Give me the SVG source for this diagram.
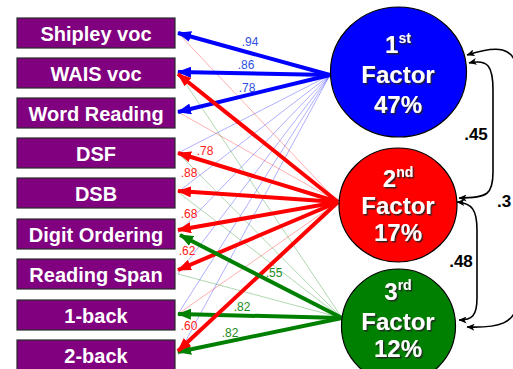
<svg xmlns="http://www.w3.org/2000/svg" width="513" height="369" viewBox="0 0 513 369">
<defs>
<style>
.box{fill:#800080;stroke:#2a2a2a;stroke-width:1.2}
.bt{font-family:"Liberation Sans",Arial,sans-serif;font-weight:bold;font-size:20px;fill:#fff;text-anchor:middle}
.ft{font-family:"Liberation Sans",Arial,sans-serif;font-weight:bold;font-size:24px;fill:#fff;text-anchor:middle;filter:url(#sh)}
.sup{font-size:14px}
.lb{font-family:"Liberation Sans",Arial,sans-serif;font-size:12px;text-anchor:middle}
.cl{font-family:"Liberation Sans",Arial,sans-serif;font-weight:bold;font-size:17px;fill:#000;text-anchor:middle}
.thin{stroke-width:0.7;opacity:0.45;fill:none}
.thick{stroke-width:4;fill:none}
.b{stroke:#0000ff}.r{stroke:#ff0000}.g{stroke:#008000}
.cor{fill:none;stroke:#000;stroke-width:1.6;marker-start:url(#ak);marker-end:url(#ak)}
</style>
<filter id="sh" x="-20%" y="-20%" width="140%" height="140%">
<feDropShadow dx="1.5" dy="1.5" stdDeviation="0.4" flood-color="#222" flood-opacity="0.9"/>
</filter>
<marker id="ab" viewBox="0 0 14 11" refX="13" refY="5.5" markerWidth="14" markerHeight="11" markerUnits="userSpaceOnUse" orient="auto"><path d="M14,5.5 L0,0 L0,11 Z" fill="#0000ff"/></marker>
<marker id="ar" viewBox="0 0 14 11" refX="13" refY="5.5" markerWidth="14" markerHeight="11" markerUnits="userSpaceOnUse" orient="auto"><path d="M14,5.5 L0,0 L0,11 Z" fill="#ff0000"/></marker>
<marker id="ag" viewBox="0 0 14 11" refX="13" refY="5.5" markerWidth="14" markerHeight="11" markerUnits="userSpaceOnUse" orient="auto"><path d="M14,5.5 L0,0 L0,11 Z" fill="#008000"/></marker>
<marker id="ak" viewBox="0 0 8 7" refX="7.5" refY="3.5" markerWidth="8" markerHeight="7" markerUnits="userSpaceOnUse" orient="auto-start-reverse"><path d="M0,0 L8,3.5 L0,7 L2,3.5 Z" fill="#000"/></marker>
</defs>
<rect width="513" height="369" fill="#fff"/>

<g id="connectors">
<g id="thin-lines">
<line class="thin b" x1="330" y1="75" x2="178" y2="153"/>
<line class="thin b" x1="330" y1="75" x2="178" y2="192"/>
<line class="thin b" x1="330" y1="75" x2="178" y2="233"/>
<line class="thin b" x1="330" y1="75" x2="178" y2="274"/>
<line class="thin b" x1="330" y1="75" x2="178" y2="314"/>
<line class="thin b" x1="330" y1="75" x2="178" y2="355"/>
<line class="thin r" x1="338" y1="202" x2="178" y2="33"/>
<line class="thin r" x1="338" y1="202" x2="178" y2="112"/>
<line class="thin r" x1="338" y1="202" x2="178" y2="314"/>
<line class="thin g" x1="342" y1="318" x2="178" y2="72"/>
<line class="thin g" x1="342" y1="318" x2="178" y2="153"/>
<line class="thin g" x1="342" y1="318" x2="178" y2="192"/>
<line class="thin g" x1="342" y1="318" x2="178" y2="274"/>
</g>
<g id="loading-labels">
<text class="lb" x="250" y="46" fill="#3050e0">.94</text>
<text class="lb" x="246" y="69" fill="#3050e0">.86</text>
<text class="lb" x="247" y="92" fill="#3050e0">.78</text>
<text class="lb" x="205" y="155" fill="#ff2020">.78</text>
<text class="lb" x="189" y="177" fill="#ff2020">.88</text>
<text class="lb" x="189" y="218" fill="#ff2020">.68</text>
<text class="lb" x="187" y="255" fill="#ff2020">.62</text>
<text class="lb" x="189" y="330" fill="#ff2020">.60</text>
<text class="lb" x="274" y="277" fill="#228b22">.55</text>
<text class="lb" x="242" y="311" fill="#228b22">.82</text>
<text class="lb" x="230" y="337" fill="#228b22">.82</text>
</g>
<g id="thick-arrows">
<line class="thick b" x1="330" y1="75" x2="178" y2="33" marker-end="url(#ab)"/>
<line class="thick b" x1="330" y1="75" x2="178" y2="72" marker-end="url(#ab)"/>
<line class="thick b" x1="330" y1="75" x2="178" y2="112" marker-end="url(#ab)"/>
<line class="thick g" x1="342" y1="318" x2="178" y2="314" marker-end="url(#ag)"/>
<line class="thick g" x1="342" y1="318" x2="178" y2="352" marker-end="url(#ag)"/>
<line class="thick r" x1="338" y1="202" x2="178" y2="74" marker-end="url(#ar)"/>
<line class="thick r" x1="338" y1="202" x2="178" y2="153" marker-end="url(#ar)"/>
<line class="thick r" x1="338" y1="202" x2="178" y2="191" marker-end="url(#ar)"/>
<line class="thick r" x1="338" y1="202" x2="178" y2="230" marker-end="url(#ar)"/>
<line class="thick r" x1="338" y1="202" x2="178" y2="270" marker-end="url(#ar)"/>
<line class="thick r" x1="338" y1="202" x2="178" y2="351" marker-end="url(#ar)"/>
<line class="thick g" x1="342" y1="318" x2="180" y2="235" marker-end="url(#ag)"/>
</g>
<g id="correlations">
<path class="cor" d="M469,63 C488,59 493,66 493,90 L493,172 C493,194 488,198 459,198"/>
<path class="cor" d="M457,202 C472,203 477,210 477,230 L477,298 C477,316 472,320 459,320"/>
<path class="cor" d="M467,55 C495,46 517,44 517,75 L517,300 C517,324 498,328 467,327"/>
<text class="cl" x="476" y="140">.45</text>
<text class="cl" x="461" y="267">.48</text>
<text class="cl" x="497" y="207" style="text-anchor:start">.3</text>
</g>
</g>

<g id="shipley"><rect class="box" x="17" y="18" width="158" height="30"/><text class="bt" x="96" y="40.5">Shipley voc</text></g>
<g id="wais"><rect class="box" x="17" y="58" width="158" height="30"/><text class="bt" x="96" y="80.5">WAIS voc</text></g>
<g id="wordreading"><rect class="box" x="17" y="98" width="158" height="30"/><text class="bt" x="96" y="120.5">Word Reading</text></g>
<g id="dsf"><rect class="box" x="17" y="138" width="158" height="30"/><text class="bt" x="96" y="160.5">DSF</text></g>
<g id="dsb"><rect class="box" x="17" y="178" width="158" height="30"/><text class="bt" x="96" y="200.5">DSB</text></g>
<g id="digitordering"><rect class="box" x="17" y="219" width="158" height="30"/><text class="bt" x="96" y="241.5">Digit Ordering</text></g>
<g id="readingspan"><rect class="box" x="17" y="259" width="158" height="30"/><text class="bt" x="96" y="281.5">Reading Span</text></g>
<g id="oneback"><rect class="box" x="17" y="300" width="158" height="30"/><text class="bt" x="96" y="322.5">1-back</text></g>
<g id="twoback"><rect class="box" x="17" y="340" width="158" height="30"/><text class="bt" x="96" y="362.5">2-back</text></g>

<g id="factor1"><ellipse cx="398.5" cy="72" rx="68" ry="65" fill="#0000ff" stroke="#000" stroke-width="1.2"/>
<text class="ft" x="398" y="53">1<tspan class="sup" dy="-10">st</tspan></text>
<text class="ft" x="398" y="83">Factor</text>
<text class="ft" x="398" y="113">47%</text></g>
<g id="factor2"><ellipse cx="398" cy="205" rx="59" ry="57" fill="#ff0000" stroke="#000" stroke-width="1.2"/>
<text class="ft" x="398" y="187">2<tspan class="sup" dy="-10">nd</tspan></text>
<text class="ft" x="398" y="214">Factor</text>
<text class="ft" x="398" y="241">17%</text></g>
<g id="factor3"><ellipse cx="398.5" cy="326" rx="57" ry="57" fill="#008000" stroke="#000" stroke-width="1.2"/>
<text class="ft" x="398" y="300">3<tspan class="sup" dy="-10">rd</tspan></text>
<text class="ft" x="398" y="330">Factor</text>
<text class="ft" x="398" y="357">12%</text></g>
</svg>
